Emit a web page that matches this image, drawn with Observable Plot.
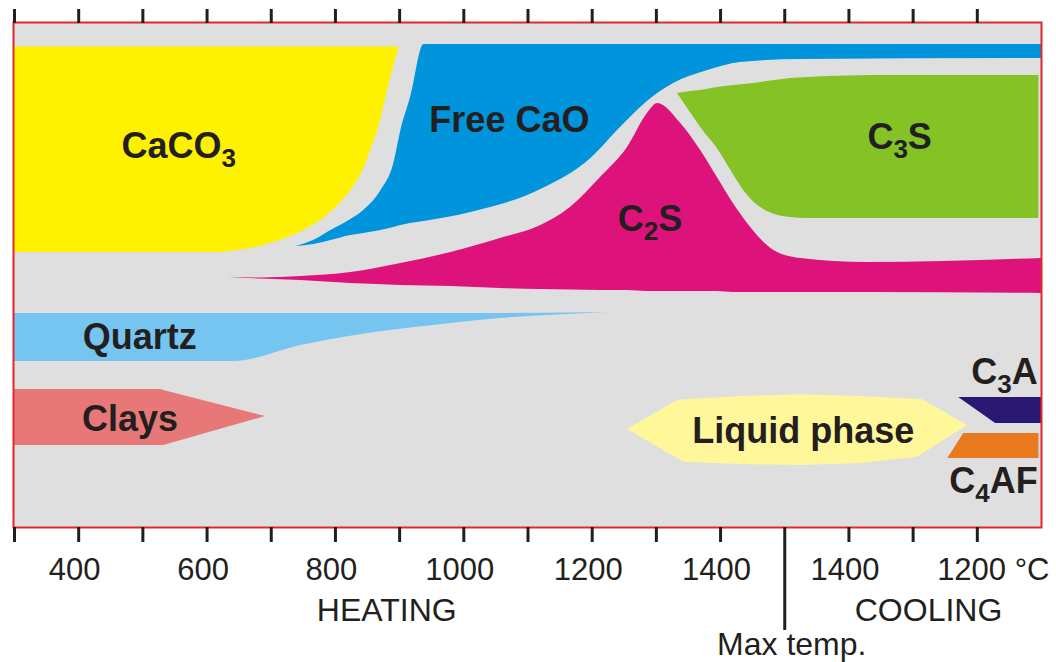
<!DOCTYPE html>
<html><head><meta charset="utf-8">
<script src="https://cdn.jsdelivr.net/npm/d3@7"></script>
<script src="https://cdn.jsdelivr.net/npm/@observablehq/plot@0.6"></script>
<style>body{margin:0;background:#fff} g[aria-label="x-axis tick"], g[aria-label="x-axis tick"] path{stroke-width:3px}</style>
</head><body><div id="chart"></div>
<script>
// x = position along the kiln: heating temperature 300→1500 °C, then cooling (position = 3000 − T)
// y = band position from top of the panel (0 = top)
const tickPositions = [300,400,500,600,700,800,900,1000,1100,1200,1300,1400,1500,1600,1700,1800];
const bottomTickPositions = [300,400,500,600,700,800,900,1000,1100,1200,1300,1400,1600,1700,1800];
const labelPositions = [400,600,800,1000,1200,1400,1600];
const labelTexts = ["400","600","800","1000","1200","1400","1400"];
const unitLabelPosition = [1800];
const unitLabelText = ["1200 °C"];
const maxTemp = 1500;
const heatStart = 300;
const processLabels = ["HEATING","COOLING"];
const processLabelX = [880, 1724];

// CaCO3 (right boundary as a function of band position)
const caco3Y     = [24.5, 58, 88, 108, 128, 148, 168, 188, 203, 213, 221, 226, 230];
const caco3Right = [899, 885, 874, 866, 855, 843, 824, 796, 765, 734, 699, 668, 625];

// Free CaO
const freeCaOX      = [738, 766, 793, 824, 844, 871, 891, 902, 917, 938, 1011, 1120, 1198, 1244, 1286, 1327, 1380, 1431, 1525, 1900];
const freeCaOTop    = [224, 218, 208, 197, 188, 168, 141, 108, 75, 22, 22, 22, 22, 22, 22, 22, 22, 22, 22, 22];
const freeCaOBottom = [224, 222, 218, 213, 211, 208, 205, 203, 201, 199, 190, 167, 136, 105, 79, 61, 48, 40, 37, 36];

// C2S
const c2sX      = [634, 684, 746, 824, 902, 980, 1057, 1120, 1166, 1213, 1255, 1286, 1302, 1338, 1369, 1395, 1420, 1447, 1483, 1525, 1629, 1900];
const c2sTop    = [255, 255.5, 254, 250, 241, 230, 216, 203, 185, 155, 125, 91, 81, 101, 128, 155, 181, 205, 228, 236, 240, 236];
const c2sBottom = [255, 256.5, 258, 261, 263, 264, 266, 267, 267.5, 268, 268, 269, 269, 269, 269, 269, 270, 270, 270, 270, 270, 271];

// C3S
const c3sX      = [1333, 1353, 1369, 1395, 1420, 1436, 1473, 1509, 1536, 1665, 1896];
const c3sTop    = [71, 69, 68, 65, 63, 62, 59, 56, 55, 53, 53];
const c3sBottom = [71, 90, 105, 126, 152, 168, 189, 195, 196, 196, 196];

// Quartz
const quartzX      = [300, 642, 746, 850, 953, 1057, 1162, 1224];
const quartzTop    = [291, 291, 291, 291, 291, 291, 290.5, 290];
const quartzBottom = [339, 339, 323, 311, 303, 296, 292, 290];

// Clays
const claysX      = [300, 528, 532.5, 691];
const claysTop    = [367, 367, 368, 394];
const claysBottom = [423, 423, 423, 394];

// Liquid phase
const liquidX      = [1255, 1333, 1342, 1431, 1525, 1618, 1707, 1715, 1785];
const liquidTop    = [407, 378, 377.6, 374, 372.3, 374, 377, 377.3, 403];
const liquidBottom = [407, 436, 439.7, 442, 443, 441, 434.7, 431.5, 403];

// C3A
const c3aX      = [1771, 1828.5, 1900];
const c3aTop    = [375, 375, 375];
const c3aBottom = [375, 401, 401];

// C4AF
const c4afX      = [1754, 1779, 1896];
const c4afTop    = [436, 411, 411];
const c4afBottom = [436, 436, 436];

// Phase labels
const phaseNames  = ["CaCO_3", "Free CaO", "C_2S", "C_3S", "Quartz", "Clays", "Liquid phase"];
const phaseLabelX = [556, 1071, 1290, 1679, 495, 480, 1529];
const phaseLabelY = [135, 109, 208, 126, 326, 408, 420];
const phaseNamesRight  = ["C_3A", "C_4AF"];
const phaseLabelRightX = [1894, 1894];
const phaseLabelRightY = [361, 470];

const ink = "#231f20";
const band = (xs, top, bottom, fill, curve) =>
  Plot.areaY(xs, {x: d => d, y1: (d, i) => top[i], y2: (d, i) => bottom[i], fill, curve});

const svg = Plot.plot({
  width: 1056,
  height: 662,
  marginTop: 22,
  marginBottom: 135,
  marginLeft: 14,
  marginRight: 15,
  style: {fontFamily: "'Liberation Sans', Arial, sans-serif", background: "#fff", color: ink},
  x: {domain: [300, 1900], label: null},
  y: {domain: [0, 505], reverse: true, axis: null, label: null},
  marks: [
    Plot.frame({fill: "#dfdfdf", stroke: "none", insetLeft: -1}),
    Plot.areaX(caco3Y, {y: d => d, x1: heatStart, x2: (d, i) => caco3Right[i], fill: "#fff200", curve: "monotone-y"}),
    band(freeCaOX, freeCaOTop, freeCaOBottom, "#0094dc", "monotone-x"),
    band(c2sX, c2sTop, c2sBottom, "#dd137b", "monotone-x"),
    band(c3sX, c3sTop, c3sBottom, "#84c225", "monotone-x"),
    band(quartzX, quartzTop, quartzBottom, "#75c5f0", "monotone-x"),
    band(claysX, claysTop, claysBottom, "#e87878", "linear"),
    band(liquidX, liquidTop, liquidBottom, "#fff799", "linear"),
    band(c3aX, c3aTop, c3aBottom, "#2b1872", "linear"),
    band(c4afX, c4afTop, c4afBottom, "#e8791d", "linear"),
    Plot.frame({stroke: "#e3262c", strokeWidth: 2, insetLeft: -1}),
    Plot.axisX({anchor: "top", ticks: tickPositions, tickSize: 14, tickFormat: () => "", stroke: ink, strokeWidth: 3}),
    Plot.axisX({anchor: "bottom", ticks: bottomTickPositions, tickSize: 15, tickFormat: () => "", stroke: ink, strokeWidth: 3}),
    Plot.axisX({anchor: "bottom", ticks: [maxTemp], tickSize: 103, tickFormat: () => "", stroke: ink, strokeWidth: 3}),
    Plot.text(labelPositions, {x: d => d, text: (d, i) => labelTexts[i], frameAnchor: "bottom", dy: 52, dx: -4, fontSize: 31, fill: ink}),
    Plot.text(unitLabelPosition, {x: d => d, text: (d, i) => unitLabelText[i], frameAnchor: "bottom", dy: 52, dx: 16, fontSize: 31, fill: ink}),
    Plot.text(processLabels, {x: (d, i) => processLabelX[i], text: d => d, frameAnchor: "bottom", dy: 93, fontSize: 32, fill: ink}),
    Plot.text(["Max temp."], {x: maxTemp, text: d => d, frameAnchor: "bottom", dy: 127, dx: 7, fontSize: 32, fill: ink}),
    Plot.text(phaseNames, {x: (d, i) => phaseLabelX[i], y: (d, i) => phaseLabelY[i], text: d => d, lineAnchor: "bottom", textAnchor: "middle", fontSize: 36, fontWeight: "bold", fill: ink}),
    Plot.text(phaseNamesRight, {x: (d, i) => phaseLabelRightX[i], y: (d, i) => phaseLabelRightY[i], text: d => d, lineAnchor: "bottom", textAnchor: "end", fontSize: 36, fontWeight: "bold", fill: ink})
  ]
});

// thicker tick marks, as in the original
d3.select(svg).selectAll('[aria-label="x-axis tick"], [aria-label="x-axis tick"] path').attr("stroke-width", 3);

// chemical subscripts: "C_3S" → C₃S
d3.select(svg).selectAll("text").each(function () {
  const s = this.textContent;
  if (!s.includes("_")) return;
  const parts = s.split(/_(\d)/);
  this.textContent = "";
  parts.forEach((p, i) => {
    if (!p) return;
    const t = document.createElementNS("http://www.w3.org/2000/svg", "tspan");
    t.textContent = p;
    if (i % 2) { t.setAttribute("font-size", 26); t.setAttribute("dy", 9.5); }
    else if (i > 0) t.setAttribute("dy", -9.5);
    this.appendChild(t);
  });
});

document.getElementById("chart").appendChild(svg);
</script>
</body></html>
